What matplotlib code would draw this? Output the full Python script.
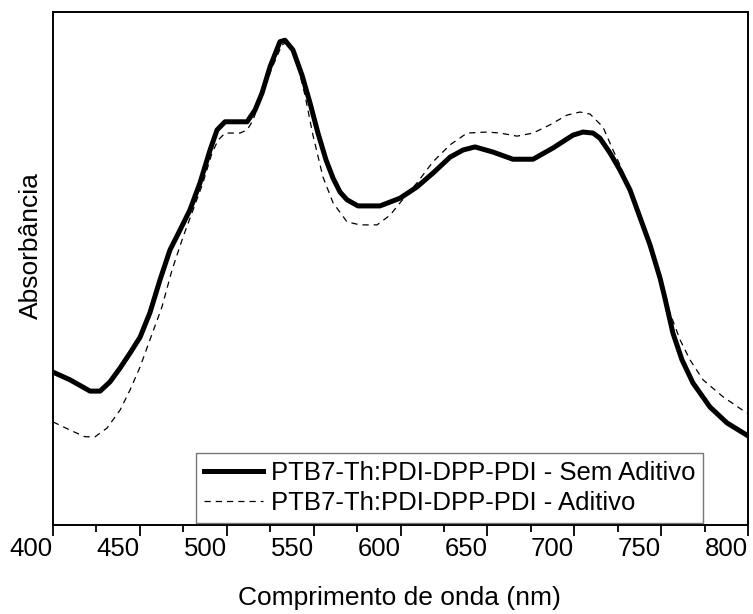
import matplotlib
matplotlib.use("Agg")
import matplotlib.pyplot as plt
from matplotlib.ticker import MultipleLocator

plt.rcParams['font.family'] = ['Liberation Sans', 'DejaVu Sans']

# PTB7-Th:PDI-DPP-PDI - Sem Aditivo (solid)
wl_sem = [400.0, 409.8, 421.3, 427.1, 432.8, 438.6, 444.3, 450.1, 455.8, 461.6,
          467.3, 473.1, 478.8, 484.6, 490.4, 494.4, 499.0, 511.7, 516.3, 520.3,
          524.9, 530.6, 533.5, 538.1, 543.3, 547.9, 552.5, 557.1, 561.2, 565.2,
          569.2, 575.5, 588.2, 599.7, 609.5, 618.7, 628.5, 636.0, 642.9, 653.2,
          664.7, 676.3, 687.8, 699.3, 705.0, 710.8, 714.8, 720.6, 726.3, 732.1,
          737.8, 743.6, 749.4, 752.2, 756.8, 762.0, 768.3, 778.1, 787.9, 799.4]
abs_sem = [0.298, 0.283, 0.261, 0.261, 0.279, 0.306, 0.335, 0.366, 0.414, 0.478,
           0.536, 0.575, 0.614, 0.667, 0.731, 0.770, 0.786, 0.786, 0.809, 0.842,
           0.893, 0.942, 0.945, 0.926, 0.877, 0.823, 0.764, 0.712, 0.676, 0.649,
           0.634, 0.622, 0.622, 0.637, 0.659, 0.686, 0.717, 0.731, 0.737, 0.727,
           0.713, 0.713, 0.735, 0.760, 0.766, 0.764, 0.754, 0.725, 0.692, 0.653,
           0.600, 0.546, 0.481, 0.442, 0.374, 0.322, 0.277, 0.230, 0.199, 0.175]

# PTB7-Th:PDI-DPP-PDI - Aditivo (dashed)
wl_adt = [400.0, 409.8, 418.4, 424.2, 431.1, 438.6, 444.3, 450.1, 455.8, 462.7,
          468.5, 474.8, 480.6, 486.3, 491.5, 495.0, 499.0, 507.6, 511.7, 515.1,
          520.3, 526.0, 531.8, 535.3, 540.4, 545.0, 549.6, 555.4, 561.2, 569.2,
          576.7, 586.5, 594.0, 599.7, 609.5, 618.7, 628.5, 638.3, 649.8, 657.3,
          667.1, 676.3, 686.0, 695.8, 703.3, 709.1, 716.5, 722.3, 726.3, 732.1,
          737.8, 743.6, 749.4, 754.0, 760.9, 766.6, 774.1, 785.6, 799.4]
abs_adt = [0.201, 0.185, 0.172, 0.172, 0.189, 0.224, 0.263, 0.308, 0.361, 0.425,
           0.497, 0.561, 0.614, 0.667, 0.725, 0.750, 0.764, 0.764, 0.770, 0.789,
           0.838, 0.891, 0.936, 0.942, 0.903, 0.838, 0.760, 0.678, 0.628, 0.591,
           0.585, 0.585, 0.604, 0.628, 0.667, 0.708, 0.741, 0.764, 0.766, 0.764,
           0.758, 0.764, 0.780, 0.799, 0.805, 0.801, 0.776, 0.731, 0.702, 0.653,
           0.598, 0.540, 0.478, 0.423, 0.361, 0.322, 0.283, 0.250, 0.218]

fig = plt.figure(figsize=(7.53, 6.14), dpi=100)
ax = fig.add_axes([53/753, 89/614, 695/753, 513/614])

ax.plot(wl_sem, abs_sem, color='black', linewidth=3.6, solid_joinstyle='round',
        label='PTB7-Th:PDI-DPP-PDI - Sem Aditivo')
ax.plot(wl_adt, abs_adt, color='black', linewidth=0.9, linestyle=(0, (5, 4)),
        label='PTB7-Th:PDI-DPP-PDI - Aditivo')

ax.set_xlim(400, 800)
ax.set_ylim(0, 1.0)
ax.xaxis.set_major_locator(MultipleLocator(50))
ax.xaxis.set_minor_locator(MultipleLocator(25))
ax.tick_params(axis='x', which='major', direction='out', length=8, width=1.3,
               labelsize=18.5, pad=0.5)
ax.tick_params(axis='x', which='minor', direction='out', length=5, width=1.3)
for lbl in ax.get_xticklabels():
    lbl.set_horizontalalignment('right')
ax.set_yticks([])
for s in ax.spines.values():
    s.set_linewidth(1.4)

ax.set_xlabel('Comprimento de onda (nm)', fontsize=19)
ax.xaxis.set_label_coords(0.499, -0.118)
ax.set_ylabel('Absorbância', fontsize=19)
ax.yaxis.set_label_coords(-0.014, 0.544)

leg = ax.legend(loc='lower right', bbox_to_anchor=(0.935, 0.004), fontsize=18.5,
                frameon=True, fancybox=False, edgecolor='#555555',
                handlelength=2.3, handletextpad=0.3, borderpad=0.3,
                labelspacing=0.25, borderaxespad=0)
leg.get_frame().set_linewidth(1.0)

fig.savefig('out.png', dpi=100)
